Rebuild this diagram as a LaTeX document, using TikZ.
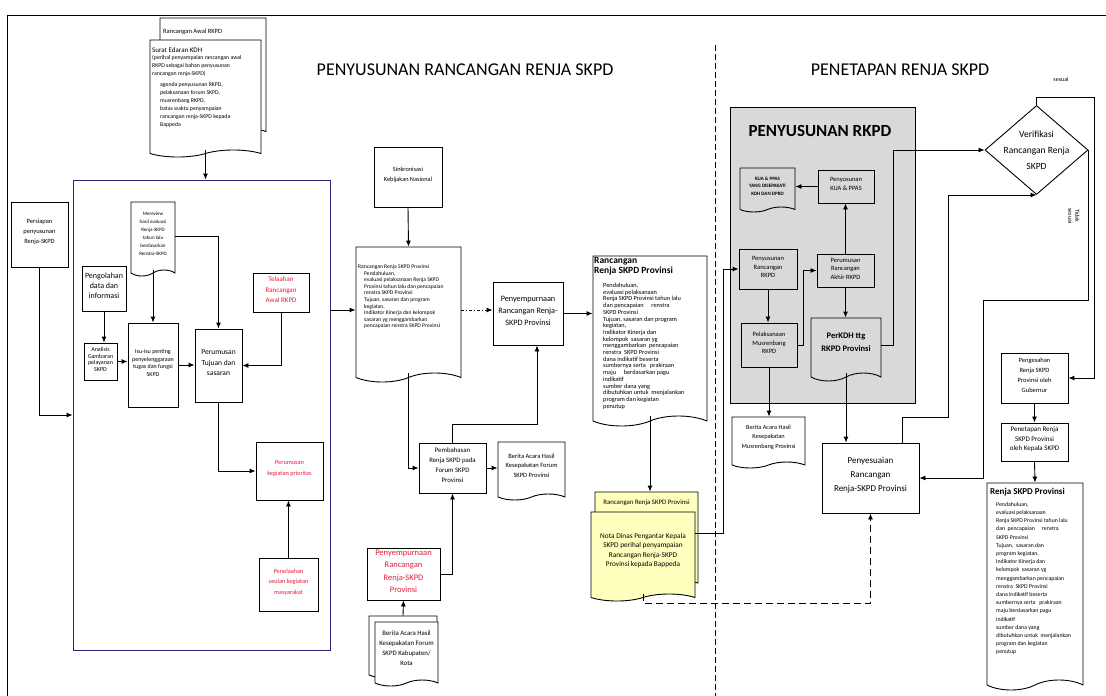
\documentclass[tikz,border=0pt]{standalone}
\usepackage{fontspec}
\setmainfont{Carlito}
\usetikzlibrary{arrows.meta, positioning, shapes.symbols, shapes.geometric, fit}
\definecolor{navy}{RGB}{45,35,120}
\definecolor{redtxt}{RGB}{225,30,60}
\definecolor{rkpdgray}{RGB}{217,217,217}
\definecolor{docyellow}{RGB}{255,255,190}
\newcommand{\fsz}[2]{\fontsize{#1}{#2}\selectfont}

\begin{document}
\begin{tikzpicture}[x=1pt, y=-1pt,
    >={Latex[length=6pt,width=5pt]},
    box/.style={draw, line width=0.9pt, fill=white, align=center, inner sep=0pt},
    doc/.style={tape, tape bend top=none, tape bend bottom=in and out, tape bend height=7pt,
      draw, line width=0.9pt, fill=white, inner sep=0pt, align=center},
    txt/.style={align=left, inner sep=0pt, anchor=north west},
    arr/.style={->, line width=0.9pt},
    ln/.style={line width=0.8pt}
  ]
  \useasboundingbox (0,0) rectangle (1106,696);
  % frame and divider
  \draw[ln] (1106,15) -- (7,15) -- (7,696);
  \draw[line width=0.6pt, dash pattern=on 6pt off 3pt] (715,45) -- (715,696);
  \node[font=\fsz{18}{18}] (judul1) at (465,70) {PENYUSUNAN RANCANGAN RENJA SKPD};
  \node[font=\fsz{18}{18}] (judul2) at (900,70) {PENETAPAN RENJA SKPD};

  % containers
  \node[draw=navy, line width=0.9pt, fit={(73,180) (330,650)}, inner sep=0pt] (tahap) {};
  \node[draw, line width=0.9pt, fill=rkpdgray, fit={(730,107) (915,403)}, inner sep=0pt] (rkpd) {};
  \node[anchor=west, font=\fsz{17}{17}\bfseries] (rkpd-t) at (745,131) {PENYUSUNAN RKPD};

  % surat edaran
  \node[doc, fit={(160,18) (266,128)}] (rawal) {};
  \node[txt, font=\fsz{6.5}{7}] (rawal-t) at (163,29) {Rancangan Awal RKPD};
  \node[doc, fit={(150,40) (261,150)}] (surat) {};
  \node[txt, font=\fsz{5.8}{7.8}] (surat-t) at (152,47) {{\fsz{7}{8}Surat Edaran KDH}\\(perihal penyampaian rancangan awal\\RKPD sebagai bahan penyusunan\\rancangan renja-SKPD)};
  \node[txt, font=\fsz{5.8}{8}] (surat-b) at (160,82) {agenda penyusunan RKPD,\\pelaksanaan forum SKPD,\\musrenbang RKPD,\\batas waktu penyampaian\\rancangan renja-SKPD kepada\\Bappeda};

  % tahap persiapan
  \node[box, fit={(11,202) (68,267)}, font=\fsz{6.5}{10}] (persiapan) {Persiapan\\penyusunan\\Renja-SKPD};
  \node[box, fit={(82,266) (126,311)}, font=\fsz{8}{10}] (olah) {Pengolahan\\data dan\\informasi};
  \node[box, fit={(84,343) (117,380)}, font=\fsz{6}{6.8}] (analisis) {Analisis\\Gambaran\\pelayanan\\SKPD};
  \node[doc, fit={(131,202) (175,270)}, font=\fsz{5}{8}, tape bend height=6pt] (review) {Mereview\\hasil evaluasi\\Renja-SKPD\\tahun lalu\\berdasarkan\\Renstra-SKPD};
  \node[box, fit={(128,323) (178,407)}, font=\fsz{6}{7.5}] (isu) {Isu-isu penting\\penyelenggaraan\\tugas dan fungsi\\SKPD};
  \node[box, fit={(195,329) (242,402)}, font=\fsz{7.5}{10.5}] (rumus) {Perumusan\\Tujuan dan\\sasaran};
  \node[box, fit={(253,273) (309,312)}, font=\fsz{7}{10.5}, text=redtxt] (telaah) {Telaahan\\Rancangan\\Awal RKPD};
  \node[box, fit={(256,442) (323,500)}, font=\fsz{6.3}{11}, text=redtxt] (prioritas) {Perumusan\\kegiatan prioritas};
  \node[box, fit={(259,558) (318,611)}, font=\fsz{6.3}{10.5}, text=redtxt] (usulan) {Penelaahan\\usulan kegiatan\\masyarakat};

  % rancangan renja
  \node[box, fit={(374,147) (442,207)}, font=\fsz{6.3}{10}] (sinkron) {Sinkronisasi\\Kebijakan Nasional};
  \node[doc, fit={(356,247) (461,373)}, tape bend height=9pt] (rrs) {};
  \node[txt, font=\fsz{5.6}{6.6}] (rrs-h) at (358,264) {Rancangan Renja SKPD Provinsi};
  \node[txt, font=\fsz{5.6}{6.6}] (rrs-b) at (364,271) {Pendahuluan,\\evaluasi pelaksanaan Renja SKPD\\Provinsi tahun lalu dan pencapaian\\renstra SKPD Provinsi\\Tujuan, sasaran dan program\\kegiatan,\\Indikator Kinerja dan kelompok\\sasaran yg menggambarkan\\pencapaian renstra SKPD Provinsi};
  \node[box, fit={(493,282) (563,345)}, font=\fsz{8.2}{12}] (sempurna1) {Penyempurnaan\\Rancangan Renja-\\SKPD Provinsi};
  \node[box, fit={(419,443) (486,493)}, font=\fsz{6.8}{10}] (bahas) {Pembahasan\\Renja SKPD pada\\Forum SKPD\\Provinsi};
  \node[doc, fit={(498,442) (565,494)}, font=\fsz{6.5}{9.5}, tape bend height=6pt] (baforum) {Berita Acara Hasil\\Kesepakatan Forum\\SKPD Provinsi};
  \node[box, fit={(367,548) (440,600)}, font=\fsz{8.5}{12.3}, text=redtxt] (sempurna2) {Penyempurnaan\\Rancangan\\Renja-SKPD\\Provinsi};
  \node[doc, fit={(369,616) (437,672)}, tape bend height=6pt] (bakab0) {};
  \node[doc, fit={(375,622) (438,680)}, font=\fsz{6.8}{10}, tape bend height=6pt] (bakab) {Berita Acara Hasil\\Kesepakatan Forum\\SKPD Kabupaten/\\Kota};

  \node[doc, fit={(593,256) (707,416)}, tape bend height=10pt] (rrs2) {};
  \node[txt, font=\fsz{9.5}{10}\bfseries] (rrs2-h) at (594,257) {Rancangan\\Renja SKPD Provinsi};
  \node[txt, font=\fsz{6.3}{6.7}] (rrs2-b) at (603,283) {Pendahuluan,\\evaluasi pelaksanaan\\Renja SKPD Provinsi tahun lalu\\dan pencapaian \quad renstra\\SKPD Provinsi\\Tujuan, sasaran dan program\\kegiatan,\\Indikator Kinerja dan\\kelompok \ sasaran yg\\menggambarkan \ pencapaian\\renstra \ SKPD Provinsi\\dana indikatif beserta\\sumbernya serta \ \ prakiraan\\maju \quad berdasarkan pagu\\indikatif\\sumber dana yang\\dibutuhkan untuk \ menjalankan\\program dan kegiatan\\penutup};

  \node[doc, fit={(595,492) (698,580)}, fill=docyellow, tape bend height=6pt] (ybk) {};
  \node[font=\fsz{6.8}{8}, inner sep=0pt] (ybk-t) at (646.5,503) {Rancangan Renja SKPD Provinsi};
  \node[doc, fit={(591,512) (695,594)}, fill=docyellow, font=\fsz{7.3}{9.5}, tape bend height=7pt] (yfr) {Nota Dinas Pengantar Kepala\\SKPD perihal penyampaian\\Rancangan Renja-SKPD\\Provinsi kepada Bappeda};

  % penyusunan rkpd
  \node[doc, fill=rkpdgray, fit={(740,168) (795,207)}, font=\fsz{5}{7.5}\bfseries, tape bend height=5pt] (kuadoc) {KUA \& PPAS\\YANG DISEPAKATI\\KDH DAN DPRD};
  \node[box, fill=rkpdgray, fit={(818,170) (874,203)}, font=\fsz{6.5}{9}] (kua) {Penyusunan\\KUA \& PPAS};
  \node[box, fill=rkpdgray, fit={(739,249) (797,289)}, font=\fsz{6.5}{8.5}] (pran) {Penyusunan\\Rancangan\\RKPD};
  \node[box, fill=rkpdgray, fit={(817,254) (874,287)}, font=\fsz{6.5}{8.5}] (akhir) {Perumusan\\Rancangan\\Akhir RKPD};
  \node[box, fill=rkpdgray, fit={(741,323) (797,367)}, font=\fsz{6.5}{8.5}] (musren) {Pelaksanaan\\Musrenbang\\RKPD};
  \node[doc, fill=rkpdgray, fit={(811,318) (881,373)}, font=\fsz{8.5}{13}\bfseries, tape bend height=8pt] (perkdh) {PerKDH ttg\\RKPD Provinsi};
  \node[doc, fit={(732,417) (805,462)}, font=\fsz{6.3}{9.5}, tape bend height=6pt] (bamus) {Berita Acara Hasil\\Kesepakatan\\Musrenbang Provinsi};

  % penetapan
  \node[box, fit={(822,443) (919,513)}, font=\fsz{9}{14}] (sesuaikan) {Penyesuaian\\Rancangan\\Renja-SKPD Provinsi};
  \node[diamond, draw, line width=0.9pt, fill=white, minimum width=103pt, minimum height=89pt, inner sep=0pt] (verif) at (1036.5,150) {};
  \node[align=center, font=\fsz{9.5}{16}] (verif-t) at (verif) {Verifikasi\\Rancangan Renja\\SKPD};
  \node[font=\fsz{6}{7}] (lbl-sesuai) at (1061,79) {sesuai};
  \node[rotate=-90, align=center, font=\fsz{6}{7}] (lbl-tidak) at (1074,216) {Tidak\\sesuai};
  \node[box, fit={(1001,353) (1068,403)}, font=\fsz{6.5}{10}] (sah) {Pengesahan\\Renja SKPD\\Provinsi oleh\\Gubernur};
  \node[box, fit={(1001,423) (1068,461)}, font=\fsz{7}{9.5}] (tetap) {Penetapan Renja\\SKPD Provinsi\\oleh Kepala SKPD};
  \node[doc, fit={(987,483) (1083,680)}, tape bend height=10pt] (renja) {};
  \node[txt, font=\fsz{9}{10}\bfseries] (renja-h) at (990,488) {Renja SKPD Provinsi};
  \node[txt, font=\fsz{5.8}{8.2}] (renja-b) at (996,502) {Pendahuluan,\\evaluasi pelaksanaan\\Renja SKPD Provinsi tahun lalu\\dan \ pencapaian \quad renstra\\SKPD Provinsi\\Tujuan, \ sasaran dan\\program kegiatan,\\Indikator Kinerja dan\\kelompok \ sasaran yg\\menggambarkan pencapaian\\renstra \ SKPD Provinsi\\dana indikatif beserta\\sumbernya serta \ \ prakiraan\\maju berdasarkan pagu\\indikatif\\sumber dana yang\\dibutuhkan untuk \ menjalankan\\program dan kegiatan\\penutup};

  % connectors
  \draw[arr] (surat.south) -- (surat.south |- tahap.north);
  \draw[arr] (persiapan.south) |- (tahap.west);
  \draw[arr] (olah.south) -- (olah.south |- analisis.north);
  \draw[arr] (analisis.east) -- (analisis.east -| isu.west);
  \draw[arr] (review.south) -- (review.south |- isu.north);
  \draw[arr] (review.east) -| (rumus.north);
  \draw[arr] (isu.east) -- (isu.east -| rumus.west);
  \draw[arr] (telaah.south) |- (rumus.east);
  \draw[arr] (rumus.south) |- (prioritas.west);
  \draw[arr] (usulan.north) -- (usulan.north |- prioritas.south);
  \draw[arr] (tahap.east |- rrs.west) -- (rrs.west);
  \draw[arr] (sinkron.south) -- (rrs.north);
  \draw[arr, dash pattern=on 3pt off 2pt on 1pt off 2pt] (rrs.east) -- (rrs.east -| sempurna1.west);
  \draw[arr] (rrs.south) |- (bahas.west);
  \draw[arr] (bahas.east) -- (bahas.east -| baforum.west);
  \draw[arr] (bahas.north) -- ++(0,-18) -| ([xshift=9pt]sempurna1.south);
  \draw[arr] (sempurna2.east) -| (bahas.south);
  \draw[arr] (bakab0.north) -- (sempurna2.south);
  \draw[arr] (sempurna1.east) -- (sempurna1.east -| rrs2.west);
  \draw[arr] (rrs2.south) -- (rrs2.south |- ybk.north);
  \draw[arr] ([yshift=20pt]yfr.east) -- ++(28,0) |- (pran.west);
  \draw[arr, dash pattern=on 7pt off 4pt] (yfr.south) -- ++(0,9) -| (sesuaikan.south);
  \draw[arr] (pran.south) -- (pran.south |- musren.north);
  \draw[arr] (musren.east) -- ++(6,0) |- (akhir.west);
  \draw[arr] (akhir.north) -- (akhir.north |- kua.south);
  \draw[arr] (kua.west) -- (kua.west -| kuadoc.east);
  \draw[arr] (akhir.south) -- (akhir.south |- perkdh.north);
  \draw[arr] (perkdh.east) -- ++(12,0) |- (verif.west);
  \draw[arr] (musren.south) -- (musren.south |- bamus.north);
  \draw[arr] (perkdh.south) -- (perkdh.south |- sesuaikan.north);
  \coordinate (belok) at (948,417);
  \draw[arr] ([xshift=32pt]sesuaikan.north) |- (belok) |- (verif.south);
  \coordinate (sesuai-k) at (1094,97);
  \draw[arr] (verif.north) |- (sesuai-k) |- (sah.east);
  \coordinate (tidak-k) at (983,300);
  \draw[arr] (verif.east) |- (tidak-k) |- (sesuaikan.east);
  \draw[arr] (sah.south) -- (tetap.north);
  \draw[arr] (tetap.south) -- (renja.north);
\end{tikzpicture}
\end{document}
